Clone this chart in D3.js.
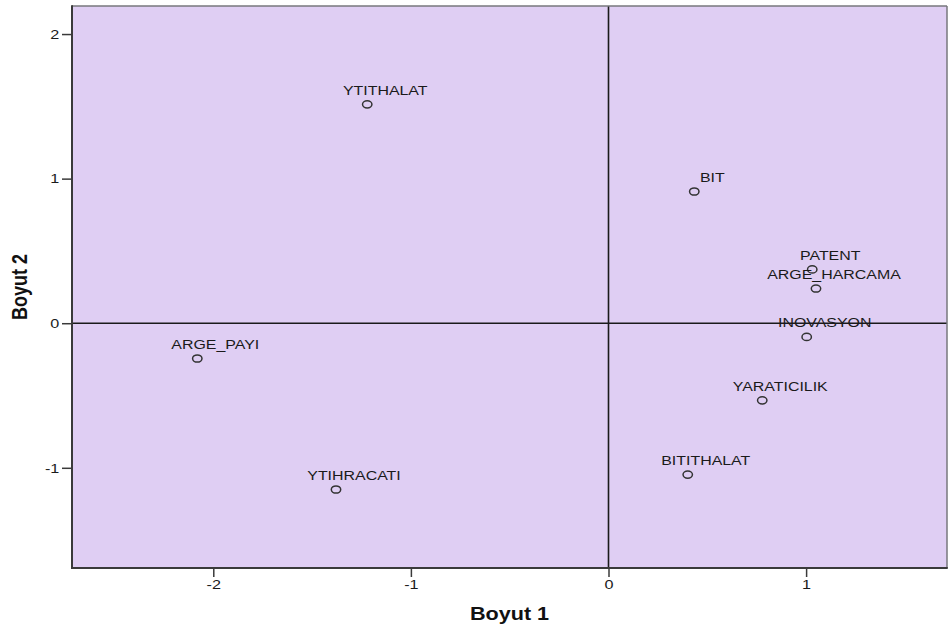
<!DOCTYPE html>
<html>
<head>
<meta charset="utf-8">
<script src="https://cdn.jsdelivr.net/npm/d3@7"></script>
<style>
  html, body { margin: 0; padding: 0; background: #fff; }
  svg { display: block; font-family: "Liberation Sans", Arial, sans-serif; }
</style>
</head>
<body>
<svg id="chart" width="948" height="629"></svg>
<script>
// Data
const labels = ["YTITHALAT", "BIT", "PATENT", "ARGE_HARCAMA", "INOVASYON", "YARATICILIK", "BITITHALAT", "YTIHRACATI", "ARGE_PAYI"];
const dim1 = [-1.221, 0.434, 1.031, 1.050, 1.003, 0.778, 0.401, -1.379, -2.081];
const dim2 = [1.514, 0.911, 0.372, 0.240, -0.095, -0.533, -1.047, -1.150, -0.244];
const xTicks = [-2, -1, 0, 1];
const yTicks = [-1, 0, 1, 2];
const xTitle = "Boyut 1";
const yTitle = "Boyut 2";

(function () {
const svg = d3.select("#chart");
const pL = 72, pR = 947, pT = 6, pB = 568;
const HS = 1.2; // horizontal text stretch

const x = d3.scaleLinear().domain([-2.715, 1.713]).range([pL, pR]);
const y = d3.scaleLinear().domain([-1.693, 2.194]).range([pB, pT]);

// plot background
svg.append("rect")
  .attr("x", pL).attr("y", pT)
  .attr("width", pR - pL).attr("height", pB - pT)
  .attr("fill", "#dfcef3");

// zero reference lines
svg.append("line")
  .attr("x1", x(0)).attr("x2", x(0)).attr("y1", pT).attr("y2", pB)
  .attr("stroke", "#1a1a1a").attr("stroke-width", 1.6);
svg.append("line")
  .attr("x1", pL).attr("x2", pR).attr("y1", y(0)).attr("y2", y(0))
  .attr("stroke", "#1a1a1a").attr("stroke-width", 1.6);

// frame
svg.append("line").attr("x1", pL).attr("x2", pR).attr("y1", pT).attr("y2", pT)
  .attr("stroke", "#77777c").attr("stroke-width", 1.5);
svg.append("line").attr("x1", pR).attr("x2", pR).attr("y1", pT).attr("y2", pB)
  .attr("stroke", "#77777c").attr("stroke-width", 1.5);

// axes
const xAxis = d3.axisBottom(x).tickValues(xTicks).tickSize(9).tickSizeOuter(0).tickPadding(2.5)
  .tickFormat(d3.format("d"));
const gx = svg.append("g").attr("transform", `translate(0,${pB})`).call(xAxis);
gx.select(".domain").remove();
gx.selectAll(".tick line").attr("stroke", "#3a3a3a").attr("stroke-width", 1.5);
gx.selectAll(".tick text")
  .attr("font-family", "'Liberation Sans', Arial, sans-serif")
  .attr("font-size", 13.5).attr("fill", "#1a1a1a")
  .text(d => d < 0 ? "-" + Math.abs(d) : d)
  .attr("transform", `scale(${HS},1)`);

const yAxis = d3.axisLeft(y).tickValues(yTicks).tickSize(10).tickSizeOuter(0)
  .tickFormat(d3.format("d"));
const gy = svg.append("g").attr("transform", `translate(${pL},0)`).call(yAxis);
gy.select(".domain").remove();
gy.selectAll(".tick line").attr("stroke", "#3a3a3a").attr("stroke-width", 1.5);
gy.selectAll(".tick text")
  .attr("font-family", "'Liberation Sans', Arial, sans-serif")
  .attr("font-size", 13.5).attr("fill", "#1a1a1a")
  .text(d => d < 0 ? "-" + Math.abs(d) : d)
  .attr("x", -12.7 / HS)
  .attr("transform", `scale(${HS},1)`);

// left & bottom frame lines (dark)
svg.append("line").attr("x1", pL).attr("x2", pL).attr("y1", pT - 0.75).attr("y2", pB + 1)
  .attr("stroke", "#3a3a3a").attr("stroke-width", 2);
svg.append("line").attr("x1", pL - 1).attr("x2", pR + 0.75).attr("y1", pB).attr("y2", pB)
  .attr("stroke", "#3a3a3a").attr("stroke-width", 2);

// points
const pts = labels.map((l, i) => ({ label: l, d1: dim1[i], d2: dim2[i] }));
const g = svg.append("g");
g.selectAll("ellipse").data(pts).join("ellipse")
  .attr("cx", d => x(d.d1)).attr("cy", d => y(d.d2))
  .attr("rx", 4.7).attr("ry", 3.6)
  .attr("fill", "none").attr("stroke", "#333").attr("stroke-width", 1.5);

g.selectAll("text").data(pts).join("text")
  .attr("transform", d => `translate(${x(d.d1) + 18},${y(d.d2) - 9.5}) scale(1.18,1)`)
  .attr("text-anchor", "middle")
  .attr("font-size", 13.5).attr("fill", "#1a1a1a")
  .text(d => d.label);

// axis titles
svg.append("text")
  .attr("transform", `translate(${(pL + pR) / 2},620) scale(${HS},1)`)
  .attr("text-anchor", "middle")
  .attr("font-size", 18).attr("font-weight", "bold").attr("fill", "#111")
  .text(xTitle);
svg.append("text")
  .attr("transform", `translate(26.5,${(pT + pB) / 2}) scale(${HS},1) rotate(-90)`)
  .attr("text-anchor", "middle")
  .attr("font-size", 18).attr("font-weight", "bold").attr("fill", "#111")
  .text(yTitle);
})();
</script>
</body>
</html>
